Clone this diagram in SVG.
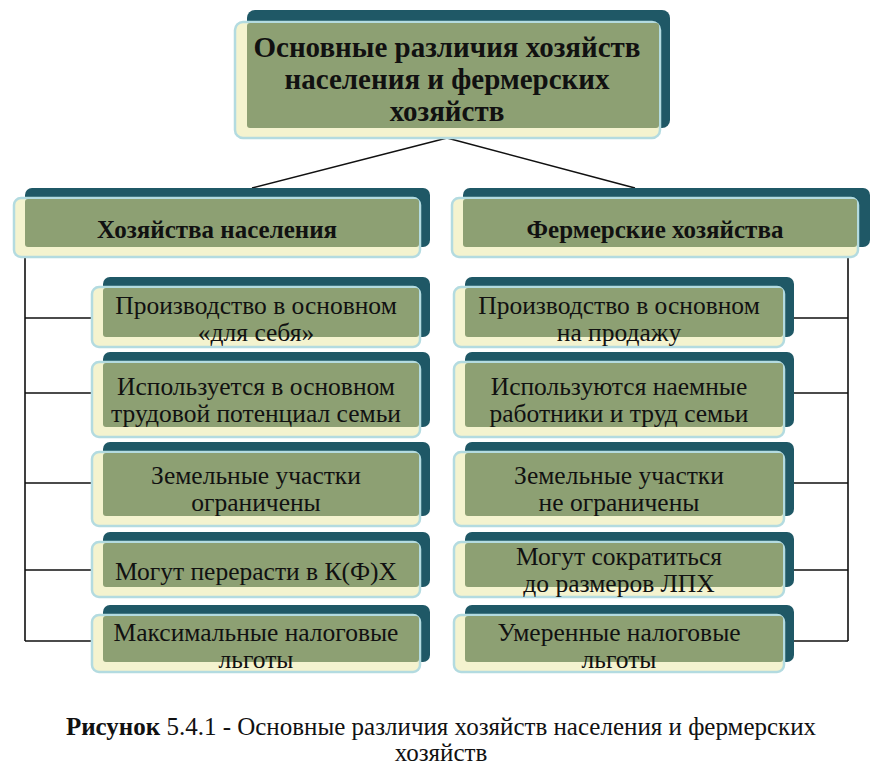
<svg xmlns="http://www.w3.org/2000/svg" width="881" height="768" viewBox="0 0 881 768">
<style>
.bk{fill:#1f5866}
.fr{fill:#f4f3cf;stroke:#b3dbe0;stroke-width:2.5}
.ov{fill:#8da073}
.ln{stroke:#111;stroke-width:1.6;fill:none}
text{font-family:"Liberation Serif",serif;fill:#111;text-anchor:middle}
.t{font-size:29px;font-weight:bold}
.h{font-size:25px;font-weight:bold}
.i{font-size:25.5px}
.c{font-size:25px}
</style>
<rect width="881" height="768" fill="#fff"/>
<g id="connectors">
<path class="ln" d="M447 138 L252 188 M447 138 L635 188"/>
<path class="ln" d="M25 225 V641 M25 318 H92 M25 393 H92 M25 483 H92 M25 570 H92 M25 641 H92"/>
<path class="ln" d="M848 257 V641 M785 318 H848 M785 393 H848 M785 483 H848 M785 570 H848 M785 641 H848"/>
</g>
<g id="title">
<rect class="bk" x="247" y="10" width="423" height="118" rx="8"/>
<rect class="fr" x="235" y="22" width="425" height="116" rx="8"/>
<rect class="ov" x="247" y="23" width="412" height="105" rx="3"/>
<text class="t" x="447" y="57">Основные различия хозяйств</text>
<text class="t" x="447" y="89">населения и фермерских</text>
<text class="t" x="447" y="121">хозяйств</text>
</g>
<g id="h-left">
<rect class="bk" x="25" y="188" width="405" height="59" rx="7"/>
<rect class="fr" x="14" y="198" width="406" height="59" rx="7"/>
<rect class="ov" x="25" y="199" width="394" height="48" rx="3"/>
<text class="h" x="217" y="238">Хозяйства населения</text>
</g>
<g id="h-right">
<rect class="bk" x="463" y="188" width="407" height="59" rx="7"/>
<rect class="fr" x="452" y="198" width="406" height="59" rx="7"/>
<rect class="ov" x="463" y="199" width="394" height="48" rx="3"/>
<text class="h" x="655" y="238">Фермерские хозяйства</text>
</g>
<g id="l1">
<rect class="bk" x="103" y="277" width="327" height="60" rx="7"/>
<rect class="fr" x="92" y="287" width="328" height="60" rx="7"/>
<rect class="ov" x="103" y="288" width="316" height="49" rx="3"/>
<text class="i" x="256" y="314">Производство в основном</text>
<text class="i" x="256" y="341">«для себя»</text>
</g>
<g id="l2">
<rect class="bk" x="103" y="352" width="327" height="75" rx="7"/>
<rect class="fr" x="92" y="362" width="328" height="75" rx="7"/>
<rect class="ov" x="103" y="363" width="316" height="64" rx="3"/>
<text class="i" x="256" y="395">Используется в основном</text>
<text class="i" x="256" y="422">трудовой потенциал семьи</text>
</g>
<g id="l3">
<rect class="bk" x="103" y="442" width="327" height="74" rx="7"/>
<rect class="fr" x="92" y="452" width="328" height="74" rx="7"/>
<rect class="ov" x="103" y="453" width="316" height="63" rx="3"/>
<text class="i" x="256" y="484">Земельные участки</text>
<text class="i" x="256" y="511">ограничены</text>
</g>
<g id="l4">
<rect class="bk" x="103" y="532" width="327" height="55" rx="7"/>
<rect class="fr" x="92" y="542" width="328" height="55" rx="7"/>
<rect class="ov" x="103" y="543" width="316" height="44" rx="3"/>
<text class="i" x="256" y="580">Могут перерасти в К(Ф)Х</text>
</g>
<g id="l5">
<rect class="bk" x="103" y="605" width="327" height="57" rx="7"/>
<rect class="fr" x="92" y="615" width="328" height="57" rx="7"/>
<rect class="ov" x="103" y="616" width="316" height="46" rx="3"/>
<text class="i" x="256" y="641">Максимальные налоговые</text>
<text class="i" x="256" y="668">льготы</text>
</g>
<g id="r1">
<rect class="bk" x="465" y="277" width="329" height="60" rx="7"/>
<rect class="fr" x="454" y="287" width="330" height="60" rx="7"/>
<rect class="ov" x="465" y="288" width="318" height="49" rx="3"/>
<text class="i" x="619" y="314">Производство в основном</text>
<text class="i" x="619" y="341">на продажу</text>
</g>
<g id="r2">
<rect class="bk" x="465" y="352" width="329" height="75" rx="7"/>
<rect class="fr" x="454" y="362" width="330" height="75" rx="7"/>
<rect class="ov" x="465" y="363" width="318" height="64" rx="3"/>
<text class="i" x="619" y="395">Используются наемные</text>
<text class="i" x="619" y="422">работники и труд семьи</text>
</g>
<g id="r3">
<rect class="bk" x="465" y="442" width="329" height="74" rx="7"/>
<rect class="fr" x="454" y="452" width="330" height="74" rx="7"/>
<rect class="ov" x="465" y="453" width="318" height="63" rx="3"/>
<text class="i" x="619" y="484">Земельные участки</text>
<text class="i" x="619" y="511">не ограничены</text>
</g>
<g id="r4">
<rect class="bk" x="465" y="532" width="329" height="55" rx="7"/>
<rect class="fr" x="454" y="542" width="330" height="55" rx="7"/>
<rect class="ov" x="465" y="543" width="318" height="44" rx="3"/>
<text class="i" x="619" y="565">Могут сократиться</text>
<text class="i" x="619" y="592">до размеров ЛПХ</text>
</g>
<g id="r5">
<rect class="bk" x="465" y="605" width="329" height="57" rx="7"/>
<rect class="fr" x="454" y="615" width="330" height="57" rx="7"/>
<rect class="ov" x="465" y="616" width="318" height="46" rx="3"/>
<text class="i" x="619" y="641">Умеренные налоговые</text>
<text class="i" x="619" y="668">льготы</text>
</g>
<g id="caption">
<text class="c" x="441" y="735"><tspan font-weight="bold">Рисунок</tspan> 5.4.1 - Основные различия хозяйств населения и фермерских</text>
<text class="c" x="441" y="761">хозяйств</text>
</g>
</svg>
